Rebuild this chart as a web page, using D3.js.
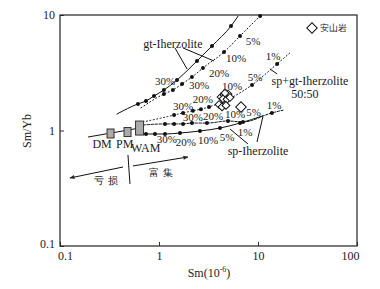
<!DOCTYPE html>
<html lang="zh">
<head>
<meta charset="UTF-8">
<title>Sm - Sm/Yb</title>
<script src="https://cdn.jsdelivr.net/npm/d3@7"></script>
<style>
    body { margin: 0; background: #fff; }
    text { font-family: "Liberation Serif", "Times New Roman", serif; fill: #222; }
</style>
</head>
<body>
<svg width="380" height="289"></svg>
<script>
    // 坐标刻度
    var xTicks = [0.1, 1, 10, 100];
    var yTicks = [0.1, 1, 10];

    // 源区 DM / PM / WAM
    var srcName = ['DM', 'PM', 'WAM'];
    var srcSm = [0.324, 0.481, 0.636];
    var srcRatio = [0.942, 0.97, 1.05];
    var srcLineSm = [0.192, 0.636];
    var srcLineRatio = [0.878, 1.05];

    // gt-lherzolite 熔融曲线 (实线)
    var gtSm = [0.613, 0.739, 0.89, 1.12, 1.52, 2.42, 3.43, 5.34];
    var gtRatio = [1.70, 1.80, 1.99, 2.24, 2.74, 4.0, 5.39, 8.03];
    var gtEnds = [[0.377, 1.39], [6.3, 9.8]];

    // gt-lherzolite 熔融曲线 (点线)
    var gt2Sm = [1.12, 1.38, 1.71, 2.15, 2.78, 4.54, 6.58, 10.5];
    var gt2Ratio = [2.07, 2.24, 2.53, 2.90, 3.48, 4.78, 6.58, 9.8];
    var gt2Ends = [[0.658, 1.57], [10.5, 9.8]];

    // sp+gt-lherzolite 50:50
    var spgtSm = [1.42, 1.75, 2.20, 2.65, 3.20, 8.7, 15.6];
    var spgtRatio = [1.36, 1.42, 1.48, 1.53, 1.60, 2.48, 3.77];
    var spgtEnds = [[0.689, 1.185], [21.5, 4.78]];

    // 中间虚线
    var midSm = [1.15, 1.42, 1.75, 2.15, 3.05, 4.98, 7.05, 13.8];
    var midRatio = [1.14, 1.14, 1.14, 1.16, 1.16, 1.21, 1.185, 1.42];
    var midEnds = [[0.689, 1.116], [17.9, 1.50]];

    // sp-lherzolite (实线)
    var spSm = [0.739, 0.911, 1.15, 1.63, 2.59, 4.13, 6.58];
    var spRatio = [0.933, 0.933, 0.933, 0.951, 0.99, 1.05, 1.16];
    var spEnds = [[0.689, 0.933], [11.2, 1.34]];

    // 安山岩样品
    var andSm = [4.23, 4.54, 4.75, 4.98, 4.43, 4.86, 5.21, 4.64, 4.04, 4.33, 4.75, 6.73];
    var andRatio = [1.95, 2.03, 1.95, 2.07, 1.88, 1.86, 1.93, 2.11, 1.68, 1.60, 1.65, 1.60];

    // 百分比标注
    var pctLabels = [
        ['30%', 1.15, 2.68],
        ['30%', 2.54, 2.48], ['20%', 4.04, 3.15], ['10%', 6.0, 4.24], ['5%', 8.9, 5.96],
        ['30%', 1.75, 1.63], ['20%', 2.78, 1.87], ['10%', 5.46, 2.43], ['5%', 9.33, 2.90], ['1%', 14.2, 4.42],
        ['30%', 2.20, 1.31], ['20%', 3.51, 1.335], ['10%', 5.86, 1.39], ['5%', 9.0, 1.45], ['1%', 14.5, 1.66],
        ['30%', 1.20, 0.844], ['20%', 1.87, 0.795], ['10%', 3.13, 0.827], ['5%', 4.86, 0.878], ['1%', 7.39, 0.970]
    ];
    var nameLabels = [
        ['gt-Iherzolite', 1.38, 5.61],
        ['sp+gt-Iherzolite', 33.5, 2.68],
        ['50:50', 29.8, 2.07],
        ['sp-Iherzolite', 10.0, 0.665]
    ];
    // 引线
    var leaders = [
        [[1.45, 5.18], [1.92, 3.41]],
        [[1.75, 5.18], [3.59, 4.0]],
        [[13.2, 3.41], [15.6, 3.09]],
        [[5.21, 1.03], [7.92, 0.764]],
        [[9.77, 0.795], [11.2, 1.31]],
        [[0.486, 0.614], [0.509, 0.344]]
    ];
    var arrows = [
        [[0.433, 0.483], [0.126, 0.388]],
        [[0.546, 0.493], [1.96, 0.59]]
    ];

    var svg = d3.select('svg');
    var x = d3.scaleLog().domain([0.1, 100]).range([60, 357]);
    var y = d3.scaleLog().domain([0.1, 10]).range([246, 15]);

    var defs = svg.append('defs');
    defs.append('marker').attr('id', 'arr')
        .attr('viewBox', '0 0 10 10').attr('refX', 9).attr('refY', 5)
        .attr('markerWidth', 7).attr('markerHeight', 5).attr('orient', 'auto')
        .append('path').attr('d', 'M0,1L10,5L0,9Z').attr('fill', '#222');

    // 坐标轴
    var axisX = d3.axisBottom(x).tickValues(xTicks).tickFormat(function (d) { return d; })
        .tickSizeInner(-4).tickSizeOuter(0).tickPadding(5);
    var gx = svg.append('g').attr('transform', 'translate(0,246)').call(axisX);
    var axisY = d3.axisLeft(y).tickValues(yTicks).tickFormat(function (d) { return d; })
        .tickSizeInner(-4).tickSizeOuter(0).tickPadding(5);
    var gy = svg.append('g').attr('transform', 'translate(60,0)').call(axisY);
    svg.selectAll('.domain').remove();
    svg.selectAll('.tick line').attr('stroke', '#333');
    svg.selectAll('.tick text').attr('font-size', 12).attr('font-family', 'Liberation Serif').attr('fill', '#222');
    gx.selectAll('.tick text').attr('dx', function (d) { return d === 0.1 ? 5 : d === 100 ? -7 : 0; });
    gy.selectAll('.tick text').attr('dy', function (d) { return d === 0.1 ? '0.1em' : '0.32em'; });

    svg.append('rect').attr('x', 60).attr('y', 15).attr('width', 297).attr('height', 231)
        .attr('fill', 'none').attr('stroke', '#222').attr('stroke-width', 1.2);

    svg.append('text').attr('transform', 'translate(31,131) rotate(-90)')
        .attr('text-anchor', 'middle').attr('font-size', 12).text('Sm/Yb');
    var xt = svg.append('text').attr('x', 209).attr('y', 277).attr('text-anchor', 'middle').attr('font-size', 12);
    xt.append('tspan').text('Sm(10');
    xt.append('tspan').attr('font-size', 8).attr('dy', -5).text('-6');
    xt.append('tspan').attr('dy', 5).text(')');

    var line = d3.line().x(function (d) { return x(d[0]); }).y(function (d) { return y(d[1]); })
        .curve(d3.curveMonotoneX);

    function pts(sm, r) { return sm.map(function (v, i) { return [v, r[i]]; }); }

    var curves = [
        { dots: pts(gtSm, gtRatio), ends: gtEnds, dash: null },
        { dots: pts(gt2Sm, gt2Ratio), ends: gt2Ends, dash: '1,2.5' },
        { dots: pts(spgtSm, spgtRatio), ends: spgtEnds, dash: '1,2.5' },
        { dots: pts(midSm, midRatio), ends: midEnds, dash: '2.5,1.5' },
        { dots: pts(spSm, spRatio), ends: spEnds, dash: null }
    ];

    svg.append('path').datum(pts(srcLineSm, srcLineRatio)).attr('d', line)
        .attr('fill', 'none').attr('stroke', '#111').attr('stroke-width', 1);

    curves.forEach(function (c) {
        var data = [c.ends[0]].concat(c.dots, [c.ends[1]]);
        svg.append('path').datum(data).attr('d', line)
            .attr('fill', 'none').attr('stroke', '#111').attr('stroke-width', 1)
            .attr('stroke-linecap', 'round').attr('stroke-dasharray', c.dash);
        svg.selectAll(null).data(c.dots).enter().append('circle')
            .attr('cx', function (d) { return x(d[0]); })
            .attr('cy', function (d) { return y(d[1]); })
            .attr('r', 2).attr('fill', '#111');
    });

    // 源区方块
    svg.selectAll('.src').data(srcName).enter().append('rect')
        .attr('x', function (d, i) { return x(srcSm[i]) - (i === 2 ? 4 : 3.5); })
        .attr('y', function (d, i) { return y(srcRatio[i]) - (i === 2 ? 7 : 4.5); })
        .attr('width', function (d, i) { return i === 2 ? 8 : 7; })
        .attr('height', function (d, i) { return i === 2 ? 14 : 9; })
        .attr('fill', '#aaa').attr('stroke', '#333').attr('stroke-width', 1);

    var srcLab = [[0.266, 0.764], [0.450, 0.764], [0.735, 0.715]];
    svg.selectAll('.srcl').data(srcName).enter().append('text')
        .attr('x', function (d, i) { return x(srcLab[i][0]); })
        .attr('y', function (d, i) { return y(srcLab[i][1]); })
        .attr('dy', '0.35em').attr('text-anchor', 'middle').attr('font-size', 12)
        .text(function (d) { return d; });

    // 引线与箭头
    svg.selectAll('.ld').data(leaders).enter().append('path')
        .attr('d', function (d) { return line(d); })
        .attr('fill', 'none').attr('stroke', '#111').attr('stroke-width', 1);
    svg.selectAll('.ar').data(arrows).enter().append('path')
        .attr('d', function (d) { return d3.line()(d.map(function (p) { return [x(p[0]), y(p[1])]; })); })
        .attr('fill', 'none').attr('stroke', '#111').attr('stroke-width', 1)
        .attr('marker-end', 'url(#arr)');

    svg.append('text').attr('x', x(0.305)).attr('y', y(0.366)).attr('dy', '0.35em')
        .attr('text-anchor', 'middle').attr('font-size', 10).attr('letter-spacing', 4)
        .attr('font-family', 'Noto Sans CJK SC').text('亏损');
    svg.append('text').attr('x', x(1.10)).attr('y', y(0.437)).attr('dy', '0.35em')
        .attr('text-anchor', 'middle').attr('font-size', 10).attr('letter-spacing', 4)
        .attr('font-family', 'Noto Sans CJK SC').text('富集');

    // 安山岩
    var diamondS = d3.symbol().type(d3.symbolSquare).size(30);
    var diamond = d3.symbol().type(d3.symbolSquare).size(55);
    svg.selectAll('.and').data(andSm).enter().append('path')
        .attr('d', function (d, i) { return i === andSm.length - 1 ? diamond() : diamondS(); })
        .attr('transform', function (d, i) { return 'translate(' + x(d) + ',' + y(andRatio[i]) + ') rotate(45)'; })
        .attr('fill', '#fff').attr('stroke', '#111').attr('stroke-width', 1);

    // 标注
    svg.selectAll('.pct').data(pctLabels).enter().append('text')
        .attr('x', function (d) { return x(d[1]); })
        .attr('y', function (d) { return y(d[2]); })
        .attr('dy', '0.35em').attr('text-anchor', 'middle').attr('font-size', 11)
        .text(function (d) { return d[0]; });
    svg.selectAll('.nm').data(nameLabels).enter().append('text')
        .attr('x', function (d) { return x(d[1]); })
        .attr('y', function (d) { return y(d[2]); })
        .attr('dy', '0.35em').attr('text-anchor', 'middle').attr('font-size', 12)
        .text(function (d) { return d[0]; });

    // 图例
    svg.append('path').attr('d', diamond).attr('transform', 'translate(312,28) rotate(45)')
        .attr('fill', '#fff').attr('stroke', '#111').attr('stroke-width', 1);
    svg.append('text').attr('x', 320).attr('y', 28).attr('dy', '0.35em').attr('font-size', 9)
        .attr('font-family', 'Noto Sans CJK SC').text('安山岩');
</script>
</body>
</html>
